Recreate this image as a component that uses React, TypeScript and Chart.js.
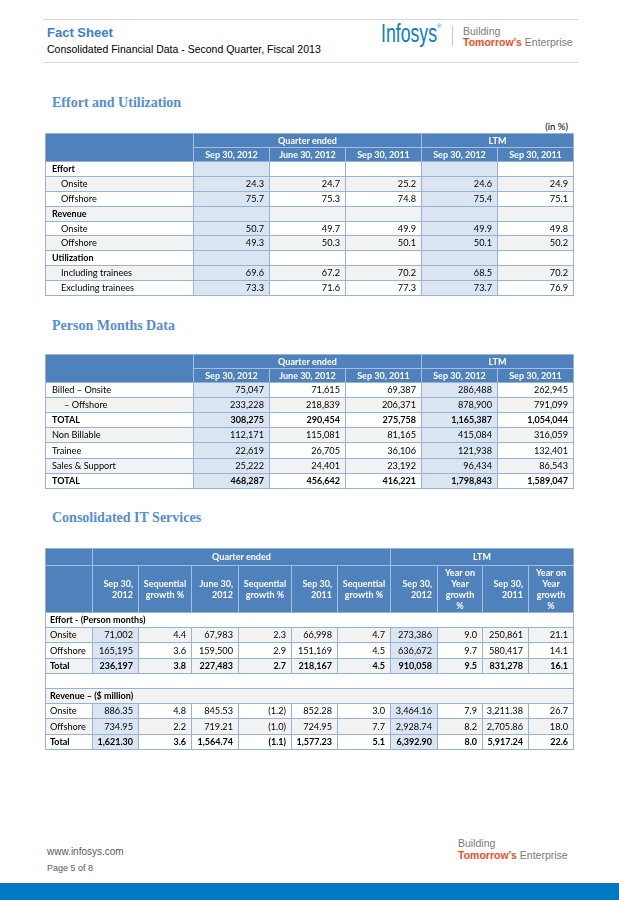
import React, { useEffect, useRef } from 'react';
import { Chart, registerables } from 'chart.js';

Chart.register(...registerables);

// ---------- DATA ----------
const groupHeaders = ['Quarter ended', 'LTM'];
const periodHeaders = ['Sep 30, 2012', 'June 30, 2012', 'Sep 30, 2011', 'Sep 30, 2012', 'Sep 30, 2011'];

const utilLabels = ['Effort', 'Onsite', 'Offshore', 'Revenue', 'Onsite', 'Offshore', 'Utilization', 'Including trainees', 'Excluding trainees'];
const utilValues: number[][] = [
  [],
  [24.3, 24.7, 25.2, 24.6, 24.9],
  [75.7, 75.3, 74.8, 75.4, 75.1],
  [],
  [50.7, 49.7, 49.9, 49.9, 49.8],
  [49.3, 50.3, 50.1, 50.1, 50.2],
  [],
  [69.6, 67.2, 70.2, 68.5, 70.2],
  [73.3, 71.6, 77.3, 73.7, 76.9],
];

const pmLabels = ['Billed – Onsite', '– Offshore', 'TOTAL', 'Non Billable', 'Trainee', 'Sales & Support', 'TOTAL'];
const pmValues: number[][] = [
  [75047, 71615, 69387, 286488, 262945],
  [233228, 218839, 206371, 878900, 791099],
  [308275, 290454, 275758, 1165387, 1054044],
  [112171, 115081, 81165, 415084, 316059],
  [22619, 26705, 36106, 121938, 132401],
  [25222, 24401, 23192, 96434, 86543],
  [468287, 456642, 416221, 1798843, 1589047],
];

const itHeaders: string[][] = [
  ['Sep 30,', '2012'], ['Sequential', 'growth %'], ['June 30,', '2012'], ['Sequential', 'growth %'],
  ['Sep 30,', '2011'], ['Sequential', 'growth %'], ['Sep 30,', '2012'], ['Year on', 'Year', 'growth', '%'],
  ['Sep 30,', '2011'], ['Year on', 'Year', 'growth', '%'],
];
const itEffortTitle = 'Effort - (Person months)';
const itEffortLabels = ['Onsite', 'Offshore', 'Total'];
const itEffortValues: number[][] = [
  [71002, 4.4, 67983, 2.3, 66998, 4.7, 273386, 9.0, 250861, 21.1],
  [165195, 3.6, 159500, 2.9, 151169, 4.5, 636672, 9.7, 580417, 14.1],
  [236197, 3.8, 227483, 2.7, 218167, 4.5, 910058, 9.5, 831278, 16.1],
];
const itRevenueTitle = 'Revenue – ($ million)';
const itRevenueLabels = ['Onsite', 'Offshore', 'Total'];
const itRevenueValues: number[][] = [
  [886.35, 4.8, 845.53, -1.2, 852.28, 3.0, 3464.16, 7.9, 3211.38, 26.7],
  [734.95, 2.2, 719.21, -1.0, 724.95, 7.7, 2928.74, 8.2, 2705.86, 18.0],
  [1621.3, 3.6, 1564.74, -1.1, 1577.23, 5.1, 6392.9, 8.0, 5917.24, 22.6],
];

// ---------- STYLE ----------
const HEADER_BG = '#4f81bd';
const HEADER_LINE = '#a3bfe3';
const BODY_LINE = '#95b3d7';
const BAND_BG = '#dbe5f1';
const GRAY_BG = '#f2f2f2';
const FONT = 'Lato';

type Cell = {
  r: number; c: number; rs?: number; cs?: number; lines: string[];
  align: 'left' | 'right' | 'center'; bg: string; bold?: boolean; color?: string;
  indent?: number; header?: boolean;
};

const fmtInt = (v: number) => v.toLocaleString('en-US', { maximumFractionDigits: 0 });
const fmtDec = (v: number, d: number) => {
  const s = Math.abs(v).toLocaleString('en-US', { minimumFractionDigits: d, maximumFractionDigits: d });
  return v < 0 ? `(${s})` : s;
};

function buildStandardTable(labels: string[], values: number[][], fmt: (v: number) => string,
  isBold: (i: number) => boolean, indentOf: (i: number) => number): Cell[] {
  const cells: Cell[] = [];
  cells.push({ r: 0, c: 0, rs: 2, lines: [''], align: 'left', bg: HEADER_BG, header: true });
  cells.push({ r: 0, c: 1, cs: 3, lines: [groupHeaders[0]], align: 'center', bg: HEADER_BG, bold: true, color: '#fff', header: true });
  cells.push({ r: 0, c: 4, cs: 2, lines: [groupHeaders[1]], align: 'center', bg: HEADER_BG, bold: true, color: '#fff', header: true });
  periodHeaders.forEach((h, j) => cells.push({ r: 1, c: j + 1, lines: [h], align: 'center', bg: HEADER_BG, bold: true, color: '#fff', header: true }));
  labels.forEach((lab, i) => {
    const r = i + 2;
    const rowBg = i % 2 === 0 ? '#ffffff' : GRAY_BG;
    cells.push({ r, c: 0, lines: [lab], align: 'left', bg: rowBg, bold: isBold(i), indent: indentOf(i) });
    for (let j = 0; j < 5; j++) {
      const v = values[i][j];
      cells.push({ r, c: j + 1, lines: [v === undefined ? '' : fmt(v)], align: 'right', bg: j === 0 || j === 3 ? BAND_BG : rowBg, bold: isBold(i) });
    }
  });
  return cells;
}

function buildITTable(): Cell[] {
  const cells: Cell[] = [];
  cells.push({ r: 0, c: 0, lines: [''], align: 'left', bg: HEADER_BG, header: true });
  cells.push({ r: 0, c: 1, cs: 6, lines: [groupHeaders[0]], align: 'center', bg: HEADER_BG, bold: true, color: '#fff', header: true });
  cells.push({ r: 0, c: 7, cs: 4, lines: [groupHeaders[1]], align: 'center', bg: HEADER_BG, bold: true, color: '#fff', header: true });
  cells.push({ r: 1, c: 0, lines: [''], align: 'left', bg: HEADER_BG, header: true });
  itHeaders.forEach((h, j) => cells.push({ r: 1, c: j + 1, lines: h, align: j % 2 === 0 ? 'right' : 'center', bg: HEADER_BG, bold: true, color: '#fff', header: true }));
  let k = 0;
  const bg = () => (k % 2 === 0 ? '#ffffff' : GRAY_BG);
  const addTitle = (t: string) => { cells.push({ r: k + 2, c: 0, cs: 11, lines: [t], align: 'left', bg: bg(), bold: true }); k++; };
  const addRows = (labels: string[], values: number[][], dec: number) => {
    labels.forEach((lab, i) => {
      const r = k + 2; const b = lab === 'Total'; const rb = bg();
      cells.push({ r, c: 0, lines: [lab], align: 'left', bg: rb, bold: b });
      values[i].forEach((v, j) => {
        const txt = j % 2 === 0 ? (dec === 0 ? fmtInt(v) : fmtDec(v, dec)) : fmtDec(v, 1);
        cells.push({ r, c: j + 1, lines: [txt], align: 'right', bg: j === 0 || j === 6 ? BAND_BG : rb, bold: b });
      });
      k++;
    });
  };
  addTitle(itEffortTitle);
  addRows(itEffortLabels, itEffortValues, 0);
  addTitle('');
  addTitle(itRevenueTitle);
  addRows(itRevenueLabels, itRevenueValues, 2);
  return cells;
}

function TableChart({ left, top, colEdges, rowEdges, cells, padL }: { left: number; top: number; colEdges: number[]; rowEdges: number[]; cells: Cell[]; padL: number }) {
  const ref = useRef<HTMLCanvasElement>(null);
  const W = colEdges[colEdges.length - 1] + 1;
  const H = rowEdges[rowEdges.length - 1] + 1;
  useEffect(() => {
    if (!ref.current) return;
    const chart = new Chart(ref.current, {
      type: 'scatter',
      data: { datasets: [] },
      options: {
        animation: false,
        responsive: false,
        devicePixelRatio: 1,
        events: [],
        layout: { padding: 0 },
        plugins: { legend: { display: false }, tooltip: { enabled: false }, title: { display: false } },
        scales: {
          x: { type: 'linear', display: false, min: 0, max: W },
          y: { type: 'linear', display: false, min: 0, max: H, reverse: true },
        },
      },
      plugins: [{
        id: 'tableCells',
        afterDraw(ch: any) {
          const ctx = ch.ctx as CanvasRenderingContext2D;
          const xs = ch.scales.x, ys = ch.scales.y;
          const px = (v: number) => Math.round(xs.getPixelForValue(v));
          const py = (v: number) => Math.round(ys.getPixelForValue(v));
          const rect = (c: Cell) => {
            const x0 = px(colEdges[c.c]), x1 = px(colEdges[c.c + (c.cs || 1)]);
            const y0 = py(rowEdges[c.r]), y1 = py(rowEdges[c.r + (c.rs || 1)]);
            return { x0, x1, y0, y1 };
          };
          ctx.save();
          cells.forEach(c => { const { x0, x1, y0, y1 } = rect(c); ctx.fillStyle = c.bg; ctx.fillRect(x0, y0, x1 - x0, y1 - y0); });
          ctx.lineWidth = 1;
          cells.filter(c => c.header).forEach(c => { const { x0, x1, y0, y1 } = rect(c); ctx.strokeStyle = HEADER_LINE; ctx.strokeRect(x0 + 0.5, y0 + 0.5, x1 - x0, y1 - y0); });
          cells.filter(c => !c.header).forEach(c => { const { x0, x1, y0, y1 } = rect(c); ctx.strokeStyle = BODY_LINE; ctx.strokeRect(x0 + 0.5, y0 + 0.5, x1 - x0, y1 - y0); });
          ctx.strokeStyle = BODY_LINE;
          ctx.strokeRect(px(0) + 0.5, py(0) + 0.5, px(colEdges[colEdges.length - 1]) - px(0), py(rowEdges[rowEdges.length - 1]) - py(0));
          const LH = 11.1, capHalf = 3.3;
          cells.forEach(c => {
            const { x0, x1, y0, y1 } = rect(c);
            ctx.font = c.bold ? `bold 9px ${FONT}` : `9.2px ${FONT}`;
            ctx.fillStyle = c.color || '#000';
            const cy = (y0 + y1) / 2 + 0.5;
            const n = c.lines.length;
            c.lines.forEach((ln, i) => {
              const by = cy + (i - (n - 1) / 2) * LH + capHalf;
              let x = (x0 + x1) / 2;
              if (c.align === 'left') { ctx.textAlign = 'left'; x = x0 + padL + (c.indent || 0); }
              else if (c.align === 'right') { ctx.textAlign = 'right'; x = x1 - 5; }
              else { ctx.textAlign = 'center'; x = (x0 + x1) / 2 + 0.5; }
              ctx.fillText(ln, x, by);
            });
          });
          ctx.restore();
        },
      }],
    } as any);
    return () => chart.destroy();
  }, []);
  return <canvas ref={ref} width={W} height={H} style={{ position: 'absolute', left, top, width: W, height: H }} />;
}

function Txt({ x, cy, size, color, bold, family, children, right }: any) {
  const lh = Math.round(size * 1.25);
  const st: any = { position: 'absolute', top: cy - lh / 2, fontSize: size, lineHeight: `${lh}px`, color, fontWeight: bold ? 'bold' : 'normal', fontFamily: family || '"Liberation Sans", Arial, sans-serif', whiteSpace: 'nowrap' };
  if (right !== undefined) st.right = right; else st.left = x;
  return <div style={st}>{children}</div>;
}

const SERIF = '"Liberation Serif", serif';
const TITLE_BLUE = '#548dd4';

export default function App() {
  const utilCells = buildStandardTable(utilLabels, utilValues, v => v.toFixed(1), i => utilValues[i].length === 0, i => (utilValues[i].length === 0 ? 0 : 9));
  const pmCells = buildStandardTable(pmLabels, pmValues, fmtInt, i => pmLabels[i] === 'TOTAL', i => (pmLabels[i].startsWith('–') ? 12 : 0));
  const itCells = buildITTable();
  const stdCols = [0, 148, 224, 300, 376, 452, 528];
  return (
    <div style={{ position: 'absolute', left: 0, top: 0, width: 619, height: 900, background: '#fff', overflow: 'hidden' }}>
      {/* header */}
      <div style={{ position: 'absolute', left: 43, top: 19, width: 535, height: 1, background: '#d9d9d9' }} />
      <div style={{ position: 'absolute', left: 43, top: 62, width: 535, height: 1, background: '#d9d9d9' }} />
      <Txt x={47} cy={33} size={13} bold color="#3b7ed6">Fact Sheet</Txt>
      <Txt x={47} cy={49} size={10.5} color="#000">Consolidated Financial Data - Second Quarter, Fiscal 2013</Txt>
      <div style={{ position: 'absolute', left: 381, top: 18, fontFamily: '"Liberation Sans", Arial, sans-serif', fontSize: 26, lineHeight: '31px', color: '#0a7bc6', transform: 'scaleX(0.68)', transformOrigin: 'left top', whiteSpace: 'nowrap' }}>Infosys</div>
      <div style={{ position: 'absolute', left: 437, top: 23, fontSize: 6, lineHeight: '6px', color: '#0a7bc6', fontFamily: 'Arial, sans-serif' }}>®</div>
      <div style={{ position: 'absolute', left: 452, top: 26, width: 1, height: 20, background: '#c8c8c8' }} />
      <Txt x={463} cy={31} size={10.5} color="#7a7a7a">Building</Txt>
      <Txt x={463} cy={42} size={10.5} color="#7a7a7a"><span style={{ color: '#e8501e', fontWeight: 'bold' }}>Tomorrow’s</span> Enterprise</Txt>

      {/* section 1 */}
      <Txt x={52} cy={103} size={14} bold color={TITLE_BLUE} family={SERIF}>Effort and Utilization</Txt>
      <Txt right={51} cy={127} size={9.5} color="#000" family={FONT}>(in %)</Txt>
      <TableChart left={45} top={133} padL={7} colEdges={stdCols} rowEdges={[0, 14, 28, 43, 58, 73, 88, 102, 117, 132, 147, 162]} cells={utilCells} />

      {/* section 2 */}
      <Txt x={52} cy={326} size={14} bold color={TITLE_BLUE} family={SERIF}>Person Months Data</Txt>
      <TableChart left={45} top={354} padL={7} colEdges={stdCols} rowEdges={[0, 14, 28, 43, 58, 73, 88, 104, 119, 134]} cells={pmCells} />

      {/* section 3 */}
      <Txt x={52} cy={518} size={14} bold color={TITLE_BLUE} family={SERIF}>Consolidated IT Services</Txt>
      <TableChart left={45} top={548} padL={5} colEdges={[0, 47, 93, 146, 193, 246, 292, 345, 392, 437, 483, 528]} rowEdges={[0, 17, 64, 79, 94, 110, 125, 140, 155, 170, 186, 201]} cells={itCells} />

      {/* footer */}
      <Txt x={47} cy={851} size={10} color="#595959">www.infosys.com</Txt>
      <Txt x={47} cy={868} size={9} color="#595959">Page 5 of 8</Txt>
      <Txt x={458} cy={843} size={10.5} color="#7a7a7a">Building</Txt>
      <Txt x={458} cy={855} size={10.5} color="#7a7a7a"><span style={{ color: '#e8501e', fontWeight: 'bold' }}>Tomorrow’s</span> Enterprise</Txt>
      <div style={{ position: 'absolute', left: 0, top: 883, width: 619, height: 17, background: '#0079c2', borderTop: '1px solid #3b5f8f', boxSizing: 'border-box' }} />
    </div>
  );
}
